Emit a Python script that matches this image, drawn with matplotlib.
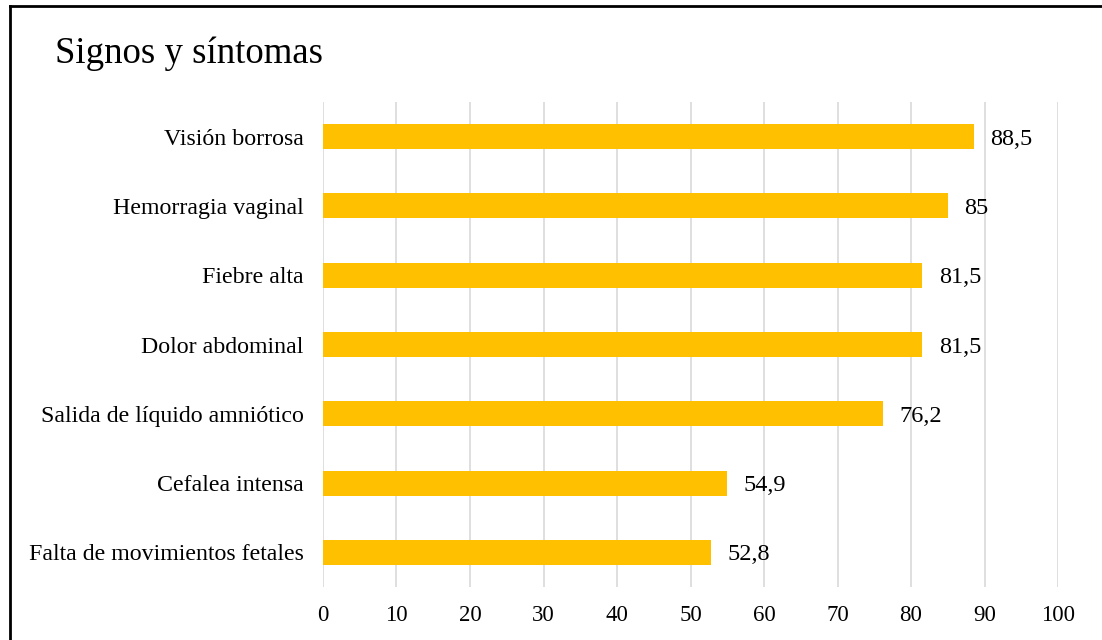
import matplotlib
matplotlib.use("Agg")
import matplotlib.pyplot as plt
from matplotlib.lines import Line2D

plt.rcParams['font.family'] = ['Liberation Serif', 'DejaVu Serif']

# datos
categorias = ["Falta de movimientos fetales", "Cefalea intensa",
              "Salida de líquido amniótico", "Dolor abdominal",
              "Fiebre alta", "Hemorragia vaginal", "Visión borrosa"]
valores = [52.8, 54.9, 76.2, 81.5, 81.5, 85, 88.5]
etiquetas = ["52,8", "54,9", "76,2", "81,5", "81,5", "85", "88,5"]
ticks_x = list(range(0, 101, 10))

fig = plt.figure(figsize=(11.02, 6.4), dpi=100)
ax = fig.add_axes([0.2931, 0.0828, 0.6670, 0.7578])

pos = list(range(len(categorias)))
ax.barh(pos, valores, height=0.36, color="#FFC000", zorder=3)

for p, v, t in zip(pos, valores, etiquetas):
    ax.annotate(t, (v, p), xytext=(12, 0), textcoords="offset points",
                va="center_baseline", ha="left", fontsize=17.5,
                color="black")

ax.set_xlim(0, 100)
ax.set_ylim(-0.5, len(categorias) - 0.5)
ax.set_xticks(ticks_x)
ax.set_xticklabels([str(t) for t in ticks_x], fontsize=16.5)
ax.set_yticks(pos)
ax.set_yticklabels(categorias, fontsize=17.2, va="center_baseline")
ax.tick_params(axis="both", length=0)
ax.tick_params(axis="x", pad=13)
ax.tick_params(axis="y", pad=14)
ax.grid(axis="x", color="#D9D9D9", linewidth=1.2, zorder=0)
for s in ax.spines.values():
    s.set_visible(False)

# titulo
fig.text(55 / 1102, 1 - 63 / 640, "Signos y síntomas", fontsize=26.5,
         ha="left", va="baseline")

# marco superior e izquierdo
fig.add_artist(Line2D([9.5 / 1102, 1], [1 - 6 / 640, 1 - 6 / 640],
                      transform=fig.transFigure, color="black", linewidth=2))
fig.add_artist(Line2D([9.5 / 1102, 9.5 / 1102], [0, 1 - 6 / 640],
                      transform=fig.transFigure, color="black", linewidth=2))

fig.savefig("out.png", dpi=100)
